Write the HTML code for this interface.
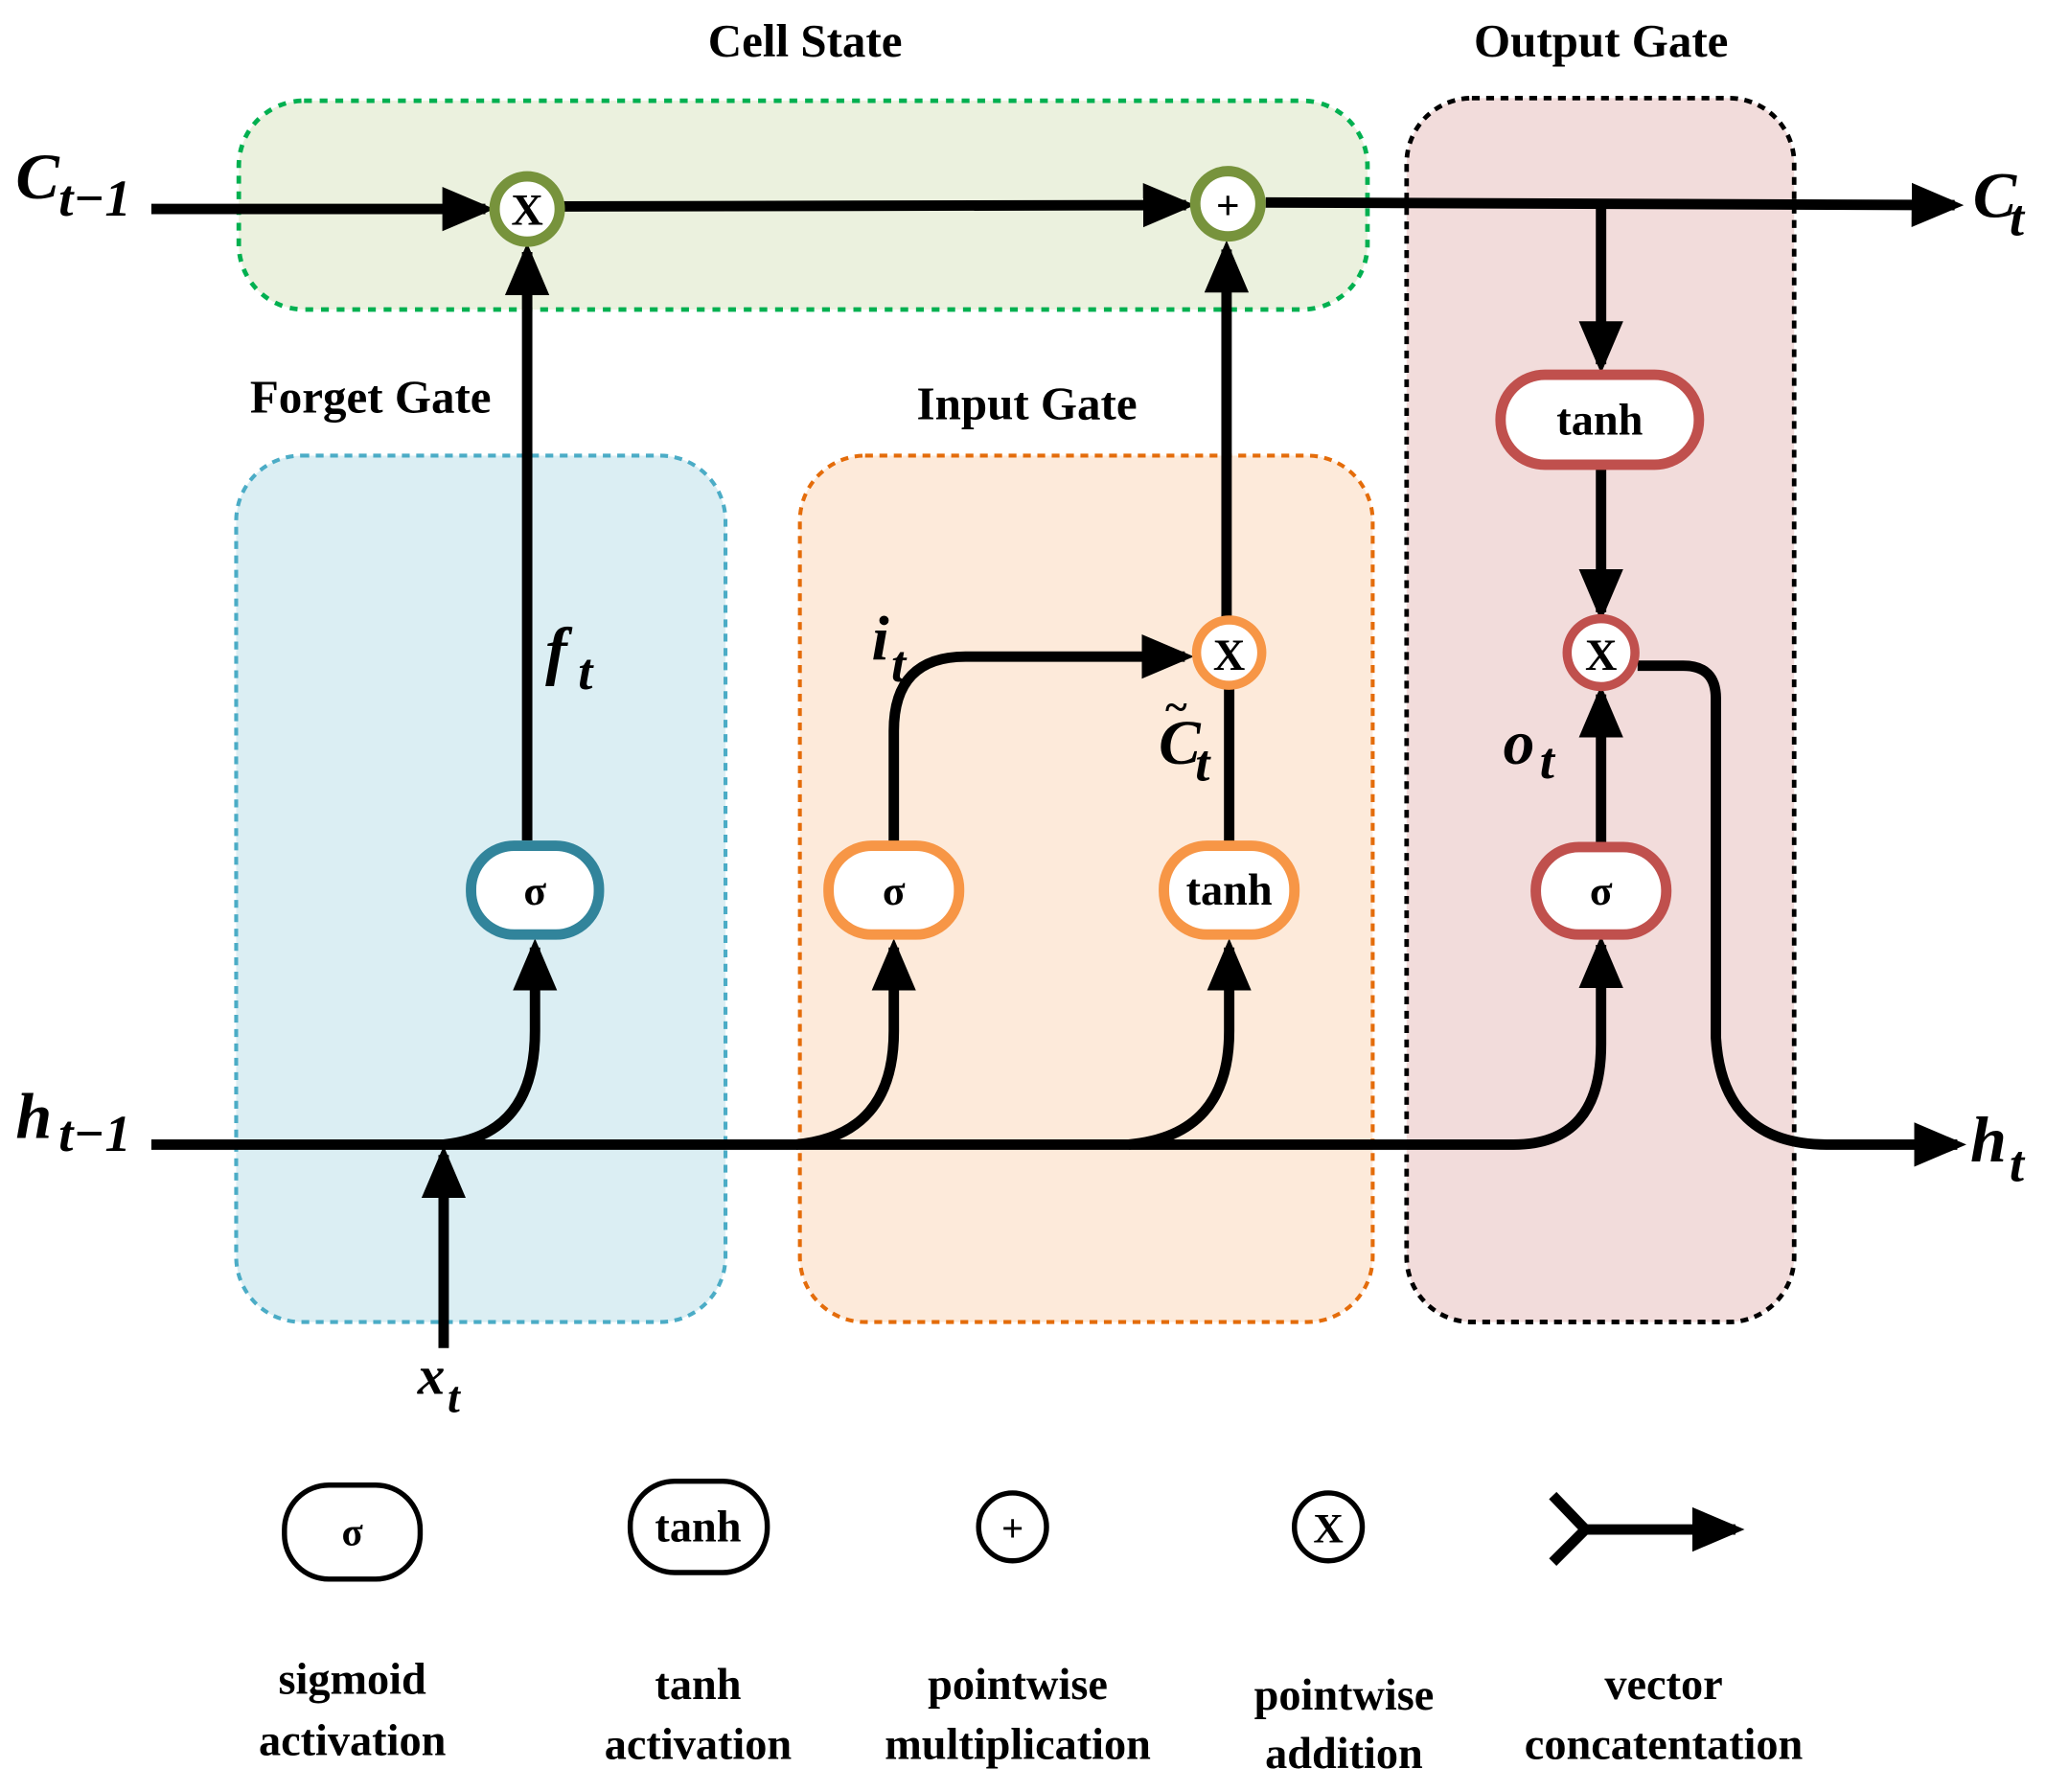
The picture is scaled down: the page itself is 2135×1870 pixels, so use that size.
<!DOCTYPE html>
<html><head><meta charset="utf-8"><style>
html,body{margin:0;padding:0;background:#fff;}
svg{display:block;}
text{font-family:"Liberation Serif",serif;font-weight:bold;}
.m{font-style:italic;}
</style></head><body>
<svg width="2135" height="1870" viewBox="0 0 1568 1373" xmlns="http://www.w3.org/2000/svg">
<defs>
<marker id="a" markerUnits="userSpaceOnUse" markerWidth="40" markerHeight="40" viewBox="0 0 40 40" refX="33" refY="20" orient="auto">
<path d="M0,3 L40,20 L0,37 Z" fill="#000"/>
</marker>
</defs>
<rect x="183" y="77" width="865" height="160" rx="50" fill="#ebf1de" stroke="#00b050" stroke-width="3.5" stroke-dasharray="6,6"/>
<rect x="181" y="349" width="375" height="664" rx="50" fill="#dbeef3" stroke="#4bacc6" stroke-width="3" stroke-dasharray="6,5"/>
<rect x="613" y="349" width="439" height="664" rx="50" fill="#fdeada" stroke="#e46c0a" stroke-width="3" stroke-dasharray="6,5"/>
<rect x="1078" y="75" width="297" height="938" rx="50" fill="#f2dcdb" stroke="#000" stroke-width="3.5" stroke-dasharray="6,5"/>
<g font-size="36" text-anchor="middle">
<text x="617" y="43">Cell State</text>
<text x="1227" y="43">Output Gate</text>
<text x="284" y="316">Forget Gate</text>
<text x="787" y="321">Input Gate</text>
</g>
<g stroke="#000" stroke-width="8" fill="none" stroke-linecap="butt">
<line x1="116" y1="160" x2="372" y2="160" marker-end="url(#a)"/>
<line x1="430" y1="158" x2="909" y2="157" marker-end="url(#a)"/>
<path d="M970,155 L1498,157" marker-end="url(#a)"/>
<line x1="1227" y1="157" x2="1227" y2="279" marker-end="url(#a)"/>
<line x1="1227" y1="358" x2="1227" y2="469" marker-end="url(#a)"/>
<line x1="1227" y1="646" x2="1227" y2="532" marker-end="url(#a)"/>
<path d="M1255,510 L1290,510 Q1315,510 1315,535 L1315,795 Q1320,877 1400,877 L1500,877" marker-end="url(#a)"/>
<path d="M116,877 L1160,877 Q1227,877 1227,800 L1227,724" marker-end="url(#a)"/>
<path d="M340,877 Q410,870 410,790 L410,726" marker-end="url(#a)"/>
<path d="M610,877 Q685,870 685,790 L685,726" marker-end="url(#a)"/>
<path d="M865,877 Q942,870 942,790 L942,726" marker-end="url(#a)"/>
<line x1="404" y1="644" x2="404" y2="193" marker-end="url(#a)"/>
<path d="M685,645 L685,560 Q685,503 740,503 L908,503" marker-end="url(#a)"/>
<line x1="942" y1="645" x2="942" y2="527"/>
<line x1="940" y1="474" x2="940" y2="191" marker-end="url(#a)"/>
<line x1="340" y1="1033" x2="340" y2="885" marker-end="url(#a)"/>
</g>
<circle cx="404" cy="160" r="25" fill="#fff" stroke="#77933c" stroke-width="8"/>
<circle cx="941" cy="156" r="25" fill="#fff" stroke="#77933c" stroke-width="8"/>
<circle cx="942" cy="500" r="25" fill="#fff" stroke="#f79646" stroke-width="7"/>
<circle cx="1227" cy="500" r="26" fill="#fff" stroke="#c0504d" stroke-width="7"/>
<rect x="1150" y="287" width="152" height="69" rx="34" fill="#fff" stroke="#c0504d" stroke-width="8"/>
<rect x="1177" y="649" width="100" height="67" rx="33" fill="#fff" stroke="#c0504d" stroke-width="8"/>
<rect x="361" y="648" width="98" height="68" rx="33" fill="#fff" stroke="#31849b" stroke-width="8"/>
<rect x="635" y="648" width="100" height="68" rx="33" fill="#fff" stroke="#f79646" stroke-width="8"/>
<rect x="892" y="648" width="100" height="68" rx="33" fill="#fff" stroke="#f79646" stroke-width="8"/>
<g text-anchor="middle">
<text x="404" y="172" font-size="34">X</text>
<text x="941" y="168" font-size="32">+</text>
<text x="942" y="513" font-size="34">X</text>
<text x="1227" y="513" font-size="34">X</text>
<text x="1226" y="333" font-size="34">tanh</text>
<text x="1227" y="693" font-size="32">σ</text>
<text x="410" y="693" font-size="32">σ</text>
<text x="685" y="693" font-size="32">σ</text>
<text x="942" y="693" font-size="34">tanh</text>
</g>
<g class="m">
<text x="12" y="152" font-size="50">C</text><text x="45" y="165" font-size="40">t−1</text>
<text x="1512" y="166" font-size="50">C</text><text x="1540" y="180" font-size="40">t</text>
<text x="12" y="872" font-size="50">h</text><text x="45" y="882" font-size="40">t−1</text>
<text x="1510" y="890" font-size="50">h</text><text x="1540" y="905" font-size="40">t</text>
<text x="418" y="515" font-size="50">f</text><text x="443" y="528" font-size="40">t</text>
<text x="668" y="505" font-size="48">i</text><text x="683" y="522" font-size="40">t</text>
<text x="888" y="585" font-size="48">C</text><text x="916" y="598" font-size="40">t</text>
<text x="892" y="552" font-size="32">~</text>
<text x="1152" y="585" font-size="48">o</text><text x="1180" y="596" font-size="40">t</text>
<text x="320" y="1068" font-size="42">x</text><text x="343" y="1082" font-size="34">t</text>
</g>
<rect x="218" y="1138" width="104" height="72" rx="34" fill="#fff" stroke="#000" stroke-width="4"/>
<rect x="483" y="1135" width="105" height="70" rx="34" fill="#fff" stroke="#000" stroke-width="4"/>
<circle cx="776" cy="1170" r="26" fill="#fff" stroke="#000" stroke-width="4"/>
<circle cx="1018" cy="1170" r="26" fill="#fff" stroke="#000" stroke-width="4"/>
<g stroke="#000" stroke-width="8" fill="none">
<path d="M1190,1146 L1215,1172 L1190,1197"/>
<line x1="1215" y1="1172" x2="1330" y2="1172" marker-end="url(#a)"/>
</g>
<g text-anchor="middle" font-size="34">
<text x="270" y="1184" font-size="30">σ</text>
<text x="535" y="1181">tanh</text>
<text x="776" y="1181" font-size="30">+</text>
<text x="1018" y="1182" font-size="32">X</text>
<text x="270" y="1298">sigmoid</text><text x="270" y="1345">activation</text>
<text x="535" y="1302">tanh</text><text x="535" y="1348">activation</text>
<text x="780" y="1302">pointwise</text><text x="780" y="1348">multiplication</text>
<text x="1030" y="1310">pointwise</text><text x="1030" y="1355">addition</text>
<text x="1275" y="1302">vector</text><text x="1275" y="1348">concatentation</text>
</g>
</svg>
</body></html>
